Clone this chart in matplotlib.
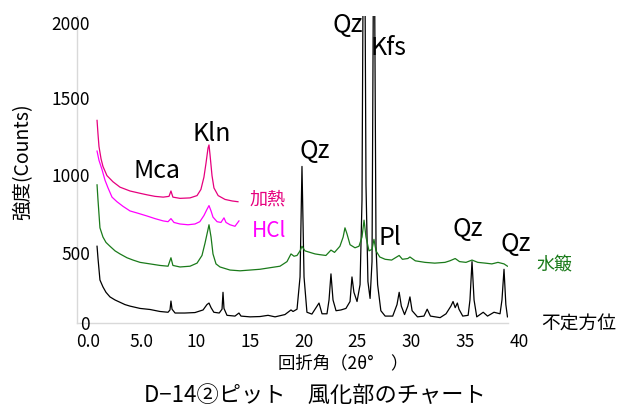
import numpy as np
import matplotlib
matplotlib.use('Agg')
from matplotlib import pyplot as plt

plt.rcParams['font.family'] = ['Noto Sans CJK JP', 'DejaVu Sans']

# 不定方位 (2theta, counts)
raw_x = [1.86, 1.95, 2.13, 2.41, 2.69, 3.06, 3.53, 3.99, 4.45, 4.92, 5.85, 6.78, 7.70, 8.45, 8.63, 8.72, 8.82,
         9.10, 10.0, 10.95, 11.7, 12.06, 12.25, 12.44, 12.7, 13.2, 13.46, 13.55, 13.64, 13.92, 14.66, 15.03,
         15.22, 16.06, 16.98, 17.73, 18.38, 19.3, 19.86, 20.05, 20.42, 20.7, 20.88, 21.07, 21.34, 21.8, 22.46,
         22.74, 23.2, 23.39, 23.57, 23.76, 24.04, 24.5, 24.96, 25.34, 25.52, 25.7, 25.99, 26.27, 26.45, 26.64,
         26.82, 27.0, 27.2, 27.38, 27.56, 27.75, 27.9, 28.2, 28.6, 29.3, 29.7, 29.9, 30.1, 30.4, 30.7, 30.9,
         31.1, 31.6, 32.2, 32.5, 32.8, 33.7, 34.25, 34.7, 34.9, 35.1, 35.3, 35.45, 35.8, 36.3, 36.47, 36.66,
         36.85, 37.1, 37.7, 38.1, 38.7, 39.26, 39.44, 39.63, 39.8, 39.95]
raw_y = [500, 420, 280, 235, 200, 170, 150, 135, 120, 110, 95, 88, 75, 70, 85, 143, 90,
         65, 65, 68, 85, 120, 130, 100, 70, 65, 90, 200, 95, 50, 45, 65,
         45, 40, 42, 50, 40, 55, 85, 75, 90, 300, 1020, 300, 70, 58, 130,
         60, 60, 150, 320, 150, 80, 85, 95, 140, 300, 200, 140, 250, 800, 3500,
         900, 270, 160, 400, 3000, 500, 250, 80, 45, 45, 120, 200, 110, 55, 110, 170,
         80, 40, 45, 90, 45, 35, 60, 110, 140, 100, 130, 90, 45, 50, 150, 400,
         150, 40, 70, 45, 70, 60, 150, 350, 120, 40]

# 水簸
wat_x = [1.86, 1.95, 2.13, 2.41, 2.69, 3.06, 3.53, 3.99, 4.64, 5.2, 5.85, 6.78, 7.7, 8.45, 8.72, 8.9, 9.56,
         10.49, 11.14, 11.6, 11.88, 12.16, 12.25, 12.44, 12.62, 12.9, 13.27, 14.2, 15.13, 16.06, 16.98, 17.9,
         18.84, 19.49, 19.86, 20.14, 20.42, 20.7, 20.88, 21.16, 21.62, 22.09, 22.55, 23.1, 23.57, 23.9, 24.4,
         24.7, 24.87, 25.06, 25.34, 25.8, 26.17, 26.45, 26.64, 26.82, 27.1, 27.38, 27.56, 27.75, 28.1, 28.6,
         29.2, 29.9, 30.2, 30.7, 30.9, 31.4, 32.3, 33.2, 34.15, 34.6, 35.1, 35.5, 36.1, 36.66, 37.2, 37.9,
         38.5, 39.07, 39.63, 39.95]
wat_y = [900, 800, 620, 560, 525, 500, 470, 450, 425, 410, 395, 385, 375, 370, 425, 375, 365,
         370, 390, 440, 520, 610, 640, 560, 450, 385, 365, 345, 340, 345, 350, 360,
         370, 400, 450, 435, 440, 470, 500, 470, 460, 450, 445, 440, 475, 460, 500,
         560, 620, 580, 510, 490, 500, 560, 670, 560, 470, 480, 545, 470, 430, 415,
         410, 440, 415, 420, 430, 405, 395, 390, 395, 405, 420, 400, 395, 410, 395, 390,
         385, 395, 385, 370]

# HCl
hcl_x = [1.86, 2.04, 2.32, 2.6, 2.88, 3.25, 3.71, 4.27, 4.92, 5.66, 6.5, 7.24, 8.0, 8.45, 8.72, 9.0, 9.56,
         10.3, 10.95, 11.4, 11.78, 12.06, 12.25, 12.44, 12.62, 13.0, 13.36, 13.64, 13.83, 14.2, 14.66, 15.03]
hcl_y = [1120, 1060, 1000, 930, 880, 820, 790, 760, 730, 715, 697, 680, 665, 660, 680, 655, 645,
         640, 645, 660, 700, 740, 765, 730, 690, 660, 655, 685, 655, 640, 630, 665]

# 加熱
heat_x = [1.86, 1.95, 2.04, 2.23, 2.41, 2.78, 3.34, 3.99, 4.92, 5.85, 6.5, 7.24, 8.0, 8.54, 8.72, 8.9, 9.56,
          10.49, 11.14, 11.5, 11.78, 11.97, 12.16, 12.25, 12.34, 12.53, 12.71, 13.1, 13.74, 14.4, 14.94]
heat_y = [1320, 1230, 1150, 1070, 1020, 960, 920, 885, 860, 845, 835, 825, 820, 825, 860, 820, 812,
          815, 830, 870, 950, 1040, 1140, 1160, 1100, 960, 880, 830, 805, 795, 790]

xticks = [0, 5, 10, 15, 20, 25, 30, 35, 40]
xticklabels = ['0.0', '5.0', '10', '15', '20', '25', '30', '35', '40']
yticks = [0, 500, 1000, 1500, 2000]
ytick_shift = [1, 8, 6, 6, 8]   # px the labels sit below their value

peak_labels = [('Mca', 7.4, 1000), ('Kln', 12.5, 1240), ('Qz', 22.1, 1125), ('Qz', 25.1, 1950),
               ('Kfs', 28.9, 1800), ('Pl', 29.0, 560), ('Qz', 36.3, 620), ('Qz', 40.7, 520)]

fig = plt.figure(figsize=(6.21, 4.06), dpi=100)
ax = fig.add_axes([77 / 621, 82 / 406, 431 / 621, 307 / 406])

ax.plot(raw_x, raw_y, color='black', lw=0.9)
ax.plot(wat_x, wat_y, color='#1a7a1a', lw=0.9)
ax.plot(hcl_x, hcl_y, color='#ff00ff', lw=0.9)
ax.plot(heat_x, heat_y, color='#e6007e', lw=0.9)

ax.set_xlim(0, 40)
ax.set_ylim(0, 2000)
for s in ['top', 'right']:
    ax.spines[s].set_visible(False)
for s in ['left', 'bottom']:
    ax.spines[s].set_color('#d9d9d9')
    ax.spines[s].set_linewidth(1.0)
ax.set_xticks(xticks)
ax.set_yticks(yticks)
ax.tick_params(length=0, labelbottom=False, labelleft=False)

# tick labels sit a little off the axis like the original
for v, lab in zip(xticks, xticklabels):
    ax.annotate(lab, (v, 0), xycoords=('data', 'axes fraction'), xytext=(11 * 0.72, -9 * 0.72),
                textcoords='offset points', ha='center', va='top', fontsize=12.5, annotation_clip=False)
for v, sh in zip(yticks, ytick_shift):
    ax.annotate(str(v), (0, v), xycoords=('axes fraction', 'data'), xytext=(13 * 0.72, -sh * 0.72),
                textcoords='offset points', ha='right', va='center', fontsize=12.5, annotation_clip=False)

for t, x, y in peak_labels:
    ax.text(x, y, t, fontsize=18, ha='center', va='center', clip_on=False)

ax.text(16.05, 808, '加熱', color='#e6007e', fontsize=13, ha='left', va='center', clip_on=False)
ax.text(17.8, 606, 'HCl', color='#ff00ff', fontsize=15, ha='center', va='center', clip_on=False)
ax.text(44.3, 380, '水簸', color='#1a7a1a', fontsize=13, ha='center', va='center', clip_on=False)
ax.text(46.6, 0, '不定方位', color='black', fontsize=13.5, ha='center', va='center', clip_on=False)

fig.text(23 / 621, 1 - 162 / 406, '強度(Counts)', rotation=90, fontsize=14, ha='center', va='center')
fig.text(343 / 621, 1 - 363 / 406, '回折角（2θ°　）', fontsize=12.5, ha='center', va='center')
fig.text(315 / 621, 1 - 395 / 406, 'D−14②ピット　風化部のチャート', fontsize=16, ha='center', va='center')

fig.savefig('out.png', dpi=100)
